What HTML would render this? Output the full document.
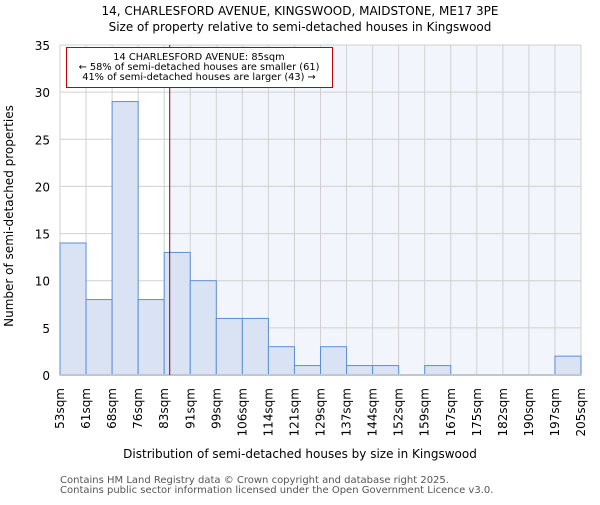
<!DOCTYPE html>
<html><head><meta charset="utf-8"><style>
body{margin:0;background:#fff}
svg{font-family:"DejaVu Sans","Liberation Sans",sans-serif}
</style></head><body>
<svg id="c" width="600" height="500">
<text x="300" y="15" text-anchor="middle" font-size="12">14, CHARLESFORD AVENUE, KINGSWOOD, MAIDSTONE, ME17 3PE</text>
<text x="300" y="31" text-anchor="middle" font-size="12">Size of property relative to semi-detached houses in Kingswood</text>
<g id="plot"></g>
<text x="300" y="458" text-anchor="middle" font-size="12">Distribution of semi-detached houses by size in Kingswood</text>
<text transform="translate(13,216) rotate(-90)" text-anchor="middle" font-size="12">Number of semi-detached properties</text>
<text x="60" y="483" font-size="10" fill="#555">Contains HM Land Registry data © Crown copyright and database right 2025.</text>
<text x="60" y="493" font-size="10" fill="#555">Contains public sector information licensed under the Open Government Licence v3.0.</text>
</svg>
<script>
const binLabels=["53sqm","61sqm","68sqm","76sqm","83sqm","91sqm","99sqm","106sqm","114sqm","121sqm","129sqm","137sqm","144sqm","152sqm","159sqm","167sqm","175sqm","182sqm","190sqm","197sqm","205sqm"];
const binEdges=[53,61,68,76,83,91,99,106,114,121,129,137,144,152,159,167,175,182,190,197,205];
const counts=[14,8,29,8,13,10,6,6,3,1,3,1,1,0,1,0,0,0,0,2];
const yTicks=[0,5,10,15,20,25,30,35];
const propertySize=85;
const NS="http://www.w3.org/2000/svg";
const L=60,R=581,T=45,B=375,yMax=35;
const n=counts.length,bw=(R-L)/n;
const xi=i=>L+i*bw;
const y=v=>B-(v/yMax)*(B-T);
function xv(v){for(let i=0;i<binEdges.length-1;i++){if(v>=binEdges[i]&&v<=binEdges[i+1])return xi(i+(v-binEdges[i])/(binEdges[i+1]-binEdges[i]));}return v<binEdges[0]?L:R;}
const g=document.getElementById('plot');
function mk(t,a){const e=document.createElementNS(NS,t);for(const k in a)e.setAttribute(k,a[k]);g.appendChild(e);return e;}
const px=xv(propertySize)-1;
let e=mk('rect',{x:L,y:T,width:R-L,height:B-T,fill:'#fff'});


e=mk('rect',{x:px,y:T,width:R-px,height:B-T,fill:'#f3f5fc'});


yTicks.forEach(t=>{
 e=mk('line',{x1:L,x2:R,y1:y(t),y2:y(t),stroke:'#d0d0d0','stroke-width':1});
 
 
 e=mk('text',{x:L-10,y:y(t)+5,'text-anchor':'end','font-size':12});
 e.textContent=t;
 
 
});
binLabels.forEach((lab,i)=>{
 const x=xi(i);
 e=mk('line',{x1:x,x2:x,y1:T,y2:B,stroke:'#d0d0d0','stroke-width':1});
 
 
 e=mk('text',{transform:`translate(${x+4},${B+13}) rotate(-90)`,'text-anchor':'end','font-size':12});
 e.textContent=lab;
 
 
});
counts.forEach((c,i)=>{
 if(c<=0)return;
 e=mk('rect',{x:xi(i),y:y(c),width:bw,height:B-y(c),fill:'#dae3f3',stroke:'#5b8fd6','stroke-width':1});
 
 
});
e=mk('line',{x1:L,x2:R,y1:B,y2:B,stroke:'#bfc6d4','stroke-width':2});


e=mk('line',{x1:px,x2:px,y1:T,y2:B,stroke:'#900000','stroke-width':1});


e=mk('rect',{x:66.5,y:47.5,width:266,height:40,fill:'#fff',stroke:'#c00000','stroke-width':1});


["14 CHARLESFORD AVENUE: 85sqm","← 58% of semi-detached houses are smaller (61)","41% of semi-detached houses are larger (43) →"].forEach((s,i)=>{
 e=mk('text',{x:199,y:60+i*10,'text-anchor':'middle','font-size':9.8});
 e.textContent=s;
 
 
});
</script>
</body></html>
